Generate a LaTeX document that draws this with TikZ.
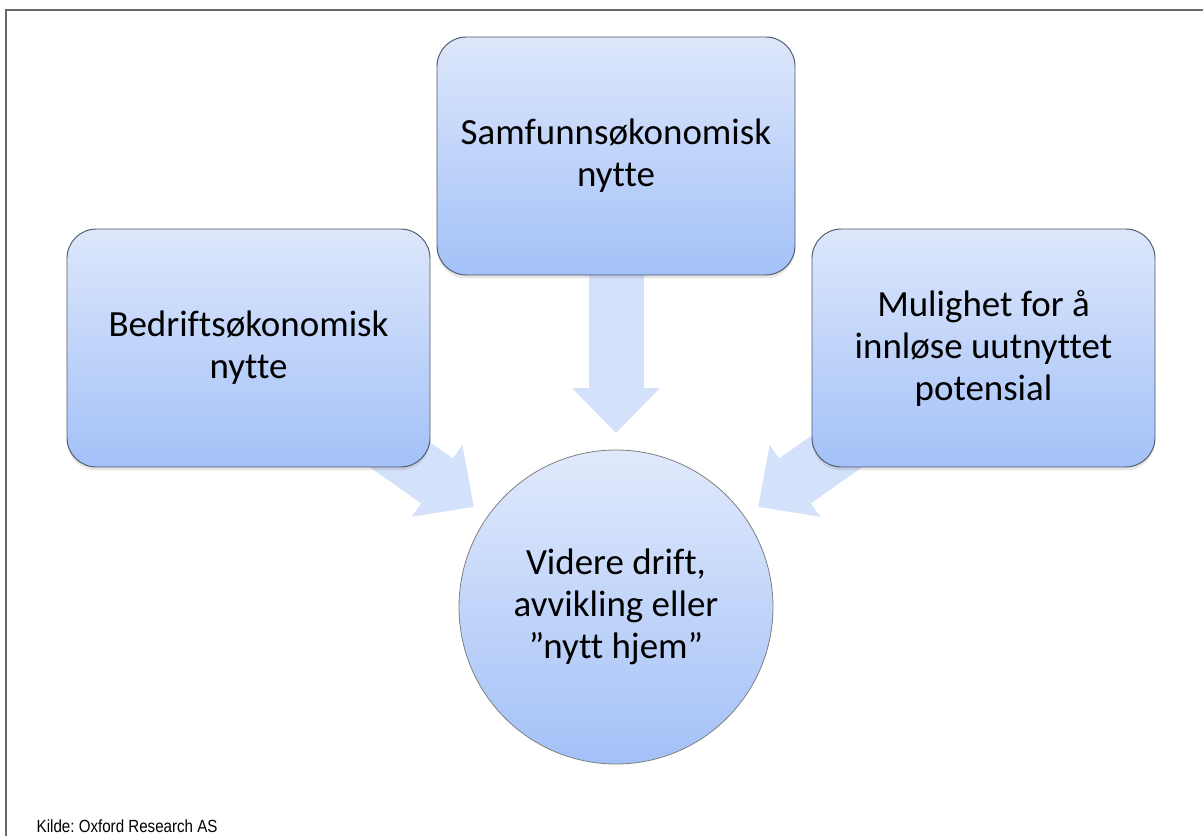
\documentclass[tikz,border=0pt]{standalone}
\usepackage{fontspec}
\setmainfont{Carlito}[Ligatures = NoCommon]
\newfontfamily\kildefont{Liberation Sans}[FakeStretch = 0.86]
\usetikzlibrary{arrows.meta,shadows,backgrounds}
\definecolor{boxtop}{RGB}{221,231,251}
\definecolor{boxbottom}{RGB}{163,193,248}
\definecolor{boxedge}{RGB}{78,88,104}
\definecolor{arrowblue}{RGB}{212,225,250}
\definecolor{framegray}{RGB}{105,105,105}
\frenchspacing
\begin{document}
\begin{tikzpicture}[x = .75pt, y = -.75pt,
	boks/.style = {rectangle, rounded corners = 22pt, draw = boxedge, line width = .7pt, top color = boxtop, bottom color = boxbottom, minimum height = 178.5pt, inner sep = 0pt, align = center, font = \fontsize{27.7}{31.5}\selectfont, drop shadow = {shadow xshift = 0pt, shadow yshift = -2.5pt, opacity = .2}},
	sirkel/.style = {circle, draw = gray, line width = .6pt, top color = boxtop!90!white, bottom color = boxbottom, minimum size = 235.5pt, inner sep = 0pt, outer sep = 0pt, align = center, font = \fontsize{27.7}{31.5}\selectfont},
	pil/.style = {draw = arrowblue, line width = 41.25pt, -{Triangle[width = 66pt, length = 33.75pt, line width = 0pt]}, shorten > = 12.75pt}]
	\useasboundingbox (0,0) rectangle (1203,836);
	\draw[framegray, line width = 1.2pt] (5,10) -- (1203,10); %top rule
	\draw[framegray, line width = 1.2pt] (6,10) -- (6,836); %left rule
	\node[boks, minimum width = 272.25pt] (bedrift) at (248.5,348) {Bedriftsøkonomisk\\nytte};
	\node[boks, minimum width = 268.5pt] (samfunn) at (616,156) {Samfunnsøkonomisk\\nytte};
	\node[boks, minimum width = 257.25pt] (mulighet) at (983.5,348) {Mulighet for å\\innløse uutnyttet\\potensial};
	\node[sirkel] (videre) at (616,607) {Videre drift,\\avvikling eller\\”nytt hjem”};
	\begin{scope}[on background layer]
		\draw[pil] (bedrift.center) -- (videre);
		\draw[pil] (samfunn.center) -- (videre);
		\draw[pil] (mulighet.center) -- (videre);
	\end{scope}
	\node[anchor = base west, font = \kildefont\fontsize{13.2}{15}\selectfont] (kilde) at (32,832) {Kilde: Oxford Research AS};
\end{tikzpicture}
\end{document}
